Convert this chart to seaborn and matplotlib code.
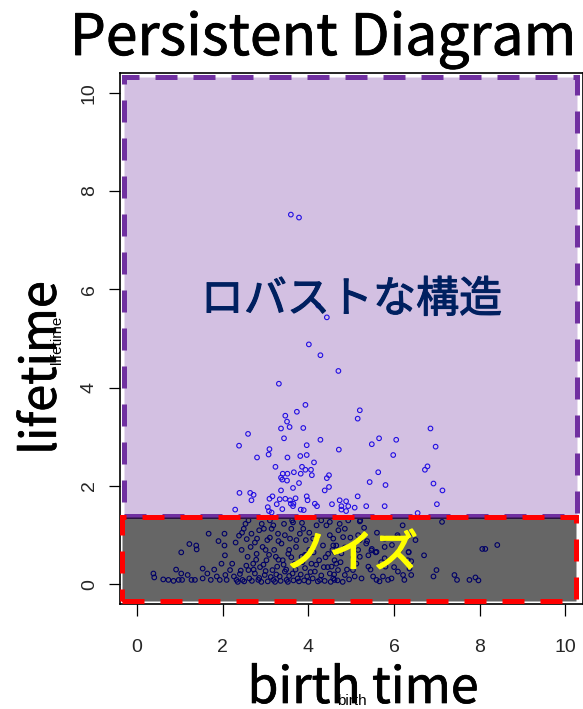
import numpy as np
import pandas as pd
import matplotlib
matplotlib.use("Agg")
import matplotlib.pyplot as plt
import matplotlib.patheffects as pe
from matplotlib.patches import Rectangle
import seaborn as sns

# Persistence pairs: birth time and lifetime of each feature
birth = [
    # long-lived features
    3.59, 3.78, 4.23, 4.43, 4.01, 4.28, 4.70, 3.31, 3.93, 3.73, 3.46, 3.50, 5.20, 5.15,
    3.56, 3.88, 3.36, 3.43, 2.59, 2.38, 4.28, 3.96, 3.09, 3.07, 2.80, 3.51, 3.81, 3.96,
    4.71, 6.85, 5.65, 5.48, 6.05, 6.97, 5.98, 4.13, 3.23, 3.85, 3.93, 4.06, 3.40, 3.51,
    3.66, 3.82, 4.08, 3.36, 3.39, 4.48, 4.43, 3.50, 3.78, 3.64, 3.36, 4.48, 4.38, 2.39,
    2.64, 2.72, 2.67, 3.16, 3.09, 3.33, 3.46, 3.57, 3.70, 3.59, 3.65, 3.96, 3.98, 3.26,
    4.15, 4.20, 4.55, 4.73, 4.77, 3.64, 2.29, 3.08, 3.14, 3.82, 3.89, 4.77, 3.39, 6.78,
    6.72, 5.63, 5.43, 5.80, 6.92, 7.13, 5.15, 7.00, 4.88, 4.93, 5.08, 5.35, 5.78, 4.88,
    6.55, 3.05,
    # short-lived features
    0.38, 0.40, 0.61, 0.73, 0.85, 0.91, 0.97, 1.03, 1.05, 1.18, 1.27, 1.35, 1.03, 1.22,
    1.38, 1.39, 1.53, 1.53, 1.64, 1.67, 1.72, 1.80, 1.86, 1.90, 1.93, 1.97, 2.04, 2.04,
    2.06, 2.09, 2.17, 2.22, 2.26, 2.05, 2.32, 2.38, 2.40, 2.44, 2.46, 2.49, 2.53, 2.56,
    2.58, 2.60, 2.62, 2.65, 2.67, 2.71, 2.75, 2.79, 2.80, 2.83, 2.87, 2.91, 2.93, 2.96,
    2.98, 3.02, 3.04, 3.10, 3.14, 3.16, 3.18, 3.20, 3.24, 3.27, 3.29, 3.33, 3.37, 3.40,
    3.43, 3.45, 3.49, 3.53, 3.57, 3.60, 3.63, 3.64, 3.68, 3.71, 3.75, 3.80, 3.84, 3.88,
    3.92, 3.94, 3.97, 4.02, 4.07, 4.11, 4.15, 4.19, 4.25, 4.27, 4.34, 4.36, 4.42, 4.46,
    4.50, 4.58, 4.61, 4.65,
    4.50, 4.73, 4.85, 4.93, 4.58, 4.81, 4.65, 4.56, 4.77, 4.61, 4.54, 4.69, 4.85, 4.58,
    5.16, 5.20, 5.35, 5.16, 5.20, 5.12, 5.04, 5.08, 5.24, 5.21, 5.40, 5.48, 5.59, 5.40,
    5.51, 5.59, 5.66, 5.74, 5.78, 5.78, 5.78, 5.80, 5.86, 5.94, 6.09, 6.13, 6.09, 6.21,
    6.24, 6.34, 6.32, 6.36, 6.40, 6.70, 6.99, 6.92, 7.12, 7.41, 7.47, 7.76, 7.90, 7.97,
    8.06, 8.13, 8.41, 5.20, 6.34, 6.08, 6.34, 6.40, 5.37, 5.57, 5.47,
    2.35, 2.42, 2.50, 2.55, 2.68, 2.72, 2.78, 2.85, 2.90, 2.95, 3.00, 3.05, 3.08, 3.12,
    3.22, 3.25, 3.30, 3.35, 3.42, 3.48, 3.52, 3.55, 3.60, 3.65, 3.70, 3.78, 3.82, 3.86,
    3.90, 3.95, 4.00, 4.05, 4.10, 4.18, 4.22, 4.30, 4.38, 4.45, 4.52, 4.60, 4.68, 4.75,
    4.80, 4.90, 4.95,
    2.30, 2.45, 2.60, 2.75, 2.85, 3.00, 3.10, 3.18, 3.30, 3.45, 3.55, 3.62, 3.72, 3.85,
    3.92, 4.02, 4.12, 4.20, 4.30, 4.40, 4.50, 4.62, 4.70, 4.85, 4.98, 5.05, 5.30, 5.45,
    5.60, 5.70, 5.95, 6.00, 6.20, 6.50,
]
lifetime = [
    7.52, 7.46, 5.67, 5.43, 4.88, 4.66, 4.34, 4.08, 3.65, 3.51, 3.43, 3.31, 3.54, 3.37,
    3.20, 3.18, 3.17, 2.97, 3.06, 2.82, 2.94, 2.83, 2.75, 2.64, 2.58, 2.58, 2.61, 2.63,
    2.74, 3.17, 2.97, 2.85, 2.94, 2.80, 2.63, 2.48, 2.39, 2.39, 2.33, 2.33, 2.25, 2.25,
    2.28, 2.25, 2.22, 2.17, 2.13, 2.22, 2.16, 2.11, 2.06, 1.96, 1.91, 1.98, 1.91, 1.86,
    1.86, 1.82, 1.71, 1.79, 1.74, 1.73, 1.74, 1.71, 1.75, 1.64, 1.64, 1.79, 1.71, 1.63,
    1.64, 1.59, 1.63, 1.71, 1.59, 1.59, 1.52, 1.49, 1.46, 1.52, 1.51, 1.52, 1.53, 2.40,
    2.33, 2.28, 2.08, 2.02, 2.05, 1.91, 1.79, 1.63, 1.69, 1.59, 1.56, 1.59, 1.59, 1.49,
    1.45, 1.57,
    0.22, 0.14, 0.10, 0.09, 0.07, 0.30, 0.09, 0.22, 0.09, 0.19, 0.09, 0.09, 0.65, 0.82,
    0.79, 0.71, 0.32, 0.12, 0.22, 1.03, 0.09, 0.30, 0.16, 0.88, 0.09, 0.42, 1.03, 0.79,
    0.19, 0.09, 0.29, 0.42, 0.16, 0.59, 0.09, 0.99, 0.21, 0.70, 0.09, 1.13, 1.23, 0.92,
    0.56, 0.29, 0.12, 0.76, 1.03, 0.42, 0.22, 0.62, 0.93, 0.09, 0.35, 1.23, 0.76, 1.13,
    0.19, 0.49, 0.90, 1.30, 1.13, 0.29, 0.09, 0.70, 0.56, 0.36, 1.03, 0.16, 0.83, 0.49,
    1.23, 0.26, 0.09, 0.62, 0.93, 1.13, 0.22, 1.26, 0.42, 0.76, 0.12, 1.03, 0.56, 1.13,
    0.33, 0.90, 0.16, 0.70, 0.42, 0.93, 0.26, 1.20, 0.49, 0.09, 0.79, 0.35, 1.20, 0.62,
    0.22, 0.79, 0.09, 0.42,
    1.27, 1.23, 1.13, 1.30, 0.93, 0.96, 0.79, 0.70, 0.63, 0.49, 0.36, 0.29, 0.19, 0.12,
    1.00, 0.90, 0.83, 0.70, 0.56, 0.42, 0.29, 0.16, 0.12, 1.30, 0.59, 0.72, 0.66, 0.36,
    0.16, 0.09, 0.06, 0.16, 0.93, 0.76, 0.53, 0.36, 0.09, 0.12, 0.96, 0.70, 0.26, 0.19,
    0.09, 0.66, 0.49, 0.32, 0.19, 0.59, 0.29, 0.16, 1.27, 0.19, 0.09, 0.09, 0.14, 0.08,
    0.72, 0.72, 0.80, 1.28, 0.99, 1.00, 0.65, 0.47, 0.88, 0.65, 0.69,
    0.05, 0.28, 0.06, 0.38, 0.07, 0.30, 0.50, 0.13, 0.05, 0.40, 0.27, 0.06, 0.60, 0.15,
    0.05, 0.20, 0.50, 0.07, 0.40, 0.30, 0.05, 0.17, 0.55, 0.08, 0.30, 0.06, 0.20, 0.45,
    0.08, 0.60, 0.05, 0.25, 0.12, 0.40, 0.06, 0.18, 0.07, 0.35, 0.05, 0.20, 0.08, 0.45,
    0.05, 0.30, 0.10,
    0.85, 1.05, 1.30, 0.85, 1.10, 0.70, 0.95, 1.20, 0.88, 1.00, 0.70, 1.30, 0.90, 1.25,
    0.60, 1.05, 0.65, 0.95, 1.30, 0.55, 1.00, 0.65, 1.10, 0.75, 0.95, 0.55, 1.15, 0.30,
    1.05, 0.45, 0.80, 0.35, 1.20, 0.90,
]

ticks = [0, 2, 4, 6, 8, 10]
noise_cut = 1.4          # lifetime threshold separating noise from robust structure
robust_label = "ロバストな構造"
noise_label = "ノイズ"

df = pd.DataFrame({"birth": birth, "lifetime": lifetime})

sns.set_theme(style="white")
plt.rcParams["font.family"] = ["Noto Sans CJK JP", "DejaVu Sans"]


def heavy(color, w):
    """Slightly thicken glyph strokes."""
    return [pe.withStroke(linewidth=w, foreground=color)]


fig = plt.figure(figsize=(5.83, 7.09), dpi=100)
ax = fig.add_axes([120 / 583, 105 / 709, 462.5 / 583, 531 / 709])

sns.scatterplot(data=df, x="birth", y="lifetime", ax=ax, marker="o", s=11,
                color="#0000FF", facecolor="none", edgecolor="#0000FF",
                linewidth=0.8, legend=False, zorder=2)

ax.set_xlim(-0.4, 10.4)
ax.set_ylim(-0.4, 10.4)

# robust region (upper) and noise region (lower)
ax.add_patch(Rectangle((-0.3, noise_cut), 10.58, 10.32 - noise_cut,
                       facecolor=(0.439, 0.188, 0.627, 0.30), edgecolor="#7030A0",
                       linewidth=3.6, linestyle=(0, (4.4, 3.2)), zorder=3))
ax.add_patch(Rectangle((-0.35, -0.34), 10.6, 0.34 + 1.36,
                       facecolor=(0, 0, 0, 0.60), edgecolor="#FF0000",
                       linewidth=3.6, linestyle=(0, (4.4, 3.2)), zorder=3))

ax.text(5.0, 5.78, robust_label, ha="center", va="center", fontsize=31,
        color="#002060", zorder=5, path_effects=heavy("#002060", 0.8))
ax.text(5.0, 0.62, noise_label, ha="center", va="center", fontsize=32,
        color="#FFFF00", zorder=5, path_effects=heavy("#FFFF00", 1.2))

tick_font = {"family": ["Liberation Sans Narrow", "Liberation Sans"], "size": 14}
ax.set_xticks(ticks)
ax.set_yticks(ticks)
ax.set_xticklabels([str(t) for t in ticks], fontdict=tick_font)
ax.set_yticklabels([str(t) for t in ticks], fontdict=tick_font, rotation=90, va="center")
ax.tick_params(axis="x", direction="out", length=8.5, width=0.9, color="black",
               pad=17, bottom=True)
ax.tick_params(axis="y", direction="out", length=8, width=0.9, color="black",
               pad=8, left=True)
ax.set_xlabel("")
ax.set_ylabel("")
for sp in ax.spines.values():
    sp.set_color("black")
    sp.set_linewidth(1.2)
ax.grid(False)

# axis names
fig.text(352 / 583, 1 - 701 / 709, "birth", ha="center", va="center", fontsize=11,
         family=["Liberation Sans Narrow", "Liberation Sans"], color="black")
fig.text(57 / 583, 1 - 340 / 709, "lifetime", ha="center", va="center", fontsize=11,
         rotation=90, family=["Liberation Sans Narrow", "Liberation Sans"], color="black")
fig.text(363 / 583, 1 - 703 / 709, "birth time", ha="center", va="baseline",
         fontsize=36, color="black", path_effects=heavy("black", 0.5))
fig.text(42 / 583, 1 - 368 / 709, "lifetime", ha="center", va="center",
         fontsize=35, rotation=90, color="black", path_effects=heavy("black", 0.5))
fig.text(323 / 583, 1 - 55 / 709, "Persistent Diagram", ha="center", va="baseline",
         fontsize=41, color="black", path_effects=heavy("black", 0.6))

fig.savefig("out.png", dpi=100, facecolor="white")
